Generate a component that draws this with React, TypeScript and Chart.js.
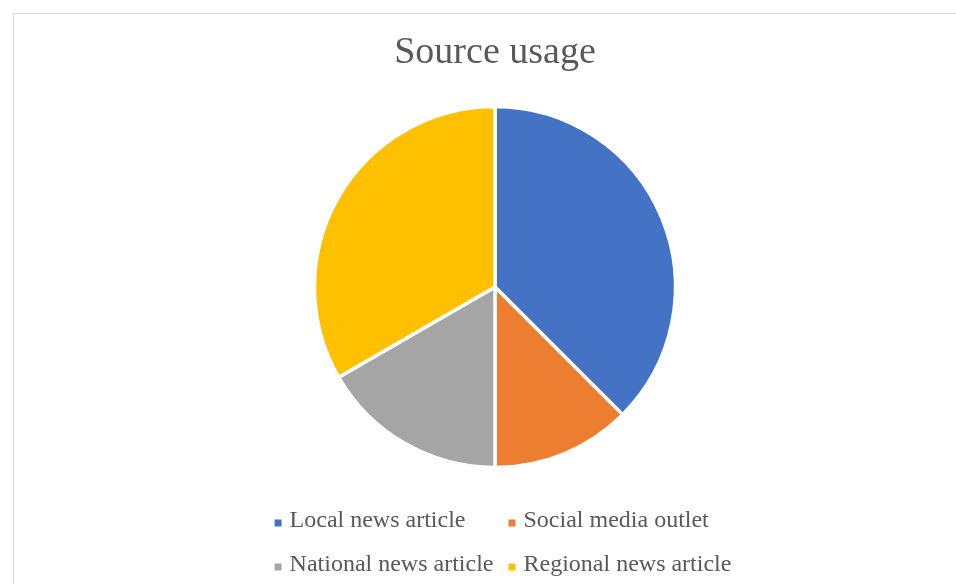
import React, { useEffect, useRef } from "react";
import { Chart, registerables } from "chart.js";

Chart.register(...registerables);

const FONT = "'Times New Roman', 'Liberation Serif', serif";

const titleText = "Source usage";
const categories = [
  "Local news article",
  "Social media outlet",
  "National news article",
  "Regional news article",
];
const counts = [9, 3, 4, 8];
const colors = ["#4472C4", "#ED7D31", "#A5A5A5", "#FFC000"];

// Two-column legend laid out like the original (grid aligned columns)
const gridLegend = {
  id: "gridLegend",
  afterDraw(chart: any) {
    const ctx: CanvasRenderingContext2D = chart.ctx;
    const labels: string[] = chart.data.labels;
    const ds = chart.data.datasets[0];
    const fill: string[] = ds.backgroundColor;
    const cols = 2;
    const box = 7;
    const gap = 8;
    const colGap = 15;
    const rowH = 44;
    const fontSize = 24;
    ctx.save();
    ctx.font = `${fontSize}px ${FONT}`;
    ctx.textBaseline = "middle";
    ctx.textAlign = "left";
    const widths = labels.map((l) => ctx.measureText(l).width);
    const colW: number[] = [];
    for (let c = 0; c < cols; c++) {
      colW.push(Math.max(...widths.filter((_, i) => i % cols === c)) + box + gap);
    }
    const total = colW.reduce((a, b) => a + b, 0) + colGap * (cols - 1);
    const cx = (chart.chartArea.left + chart.chartArea.right) / 2;
    const x0 = cx - total / 2 + 8;
    const y0 = chart.chartArea.bottom + 34;
    labels.forEach((l, i) => {
      const c = i % cols;
      const r = Math.floor(i / cols);
      let x = x0;
      for (let k = 0; k < c; k++) x += colW[k] + colGap;
      const y = y0 + r * rowH;
      ctx.fillStyle = fill[i];
      ctx.fillRect(x, y - box / 2 + 2, box, box);
      ctx.fillStyle = "#595959";
      ctx.fillText(l, x + box + gap, y);
    });
    ctx.restore();
  },
};

export default function App() {
  const ref = useRef<HTMLCanvasElement>(null);

  useEffect(() => {
    const chart = new Chart(ref.current as HTMLCanvasElement, {
      type: "pie",
      data: {
        labels: categories,
        datasets: [
          {
            data: counts,
            backgroundColor: colors,
            borderColor: "#ffffff",
            borderWidth: 3.5,
            radius: 180.5,
          } as any,
        ],
      },
      options: {
        responsive: true,
        maintainAspectRatio: false,
        animation: false,
        layout: { padding: { left: 191, right: 171, top: 0, bottom: 97 } },
        plugins: {
          title: {
            display: true,
            text: titleText,
            color: "#595959",
            font: { family: FONT, size: 38, weight: "normal" as any },
            padding: { top: 16, bottom: 11.4 },
          },
          legend: { display: false },
          tooltip: { enabled: false },
        },
      } as any,
      plugins: [gridLegend as any],
    });
    return () => chart.destroy();
  }, []);

  return (
    <div
      style={{
        position: "absolute",
        left: 13,
        top: 13,
        width: 943,
        height: 571,
        borderTop: "1px solid #d9d9d9",
        borderLeft: "1px solid #d9d9d9",
        boxSizing: "border-box",
        background: "#ffffff",
      }}
    >
      <div style={{ position: "relative", width: 942, height: 570 }}>
        <canvas ref={ref} />
      </div>
    </div>
  );
}
